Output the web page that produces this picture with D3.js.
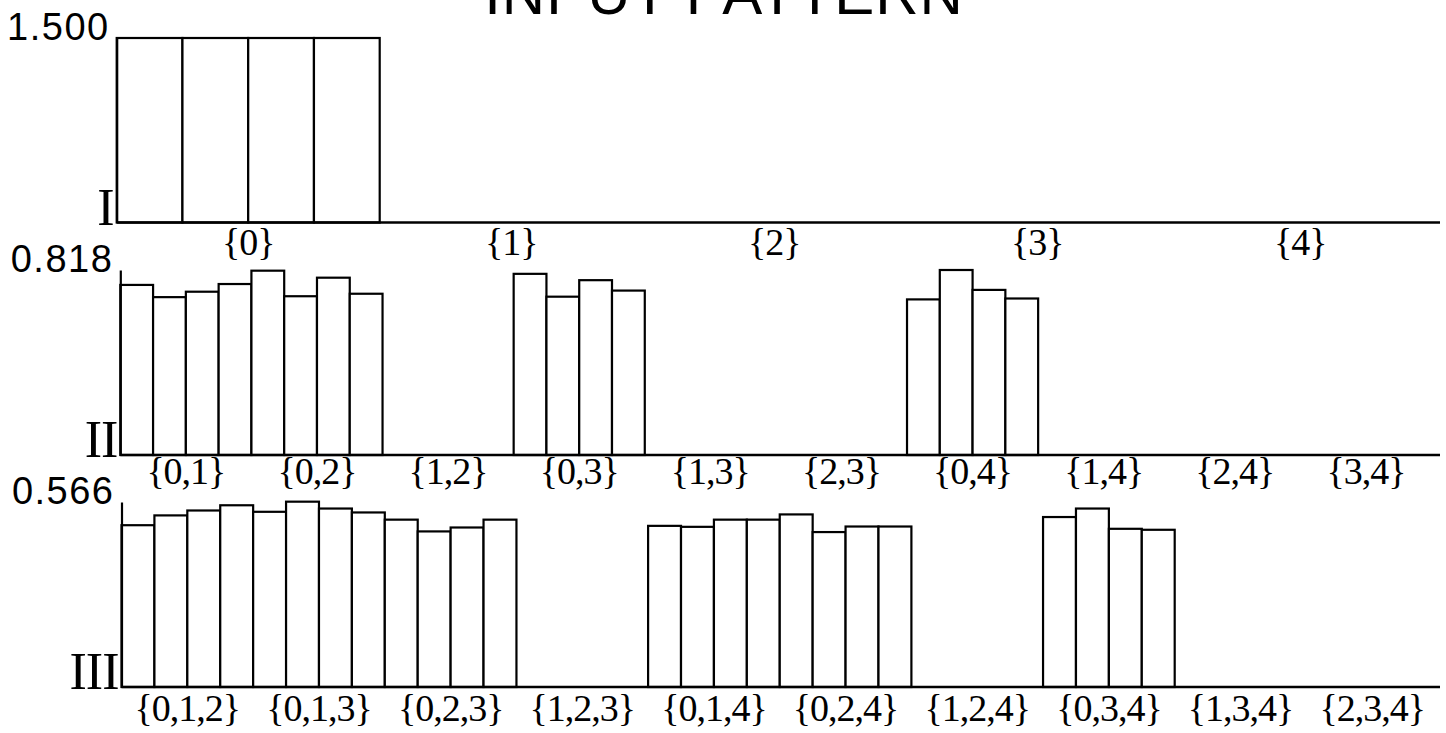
<!DOCTYPE html>
<html><head><meta charset="utf-8">
<script src="https://cdn.jsdelivr.net/npm/d3@7"></script>
<style>body{margin:0;background:#fff}svg{display:block}</style>
</head><body>
<svg id="chart" width="1446" height="733"></svg>
<script>
// ---- data ----
const titleText = "INPUT PATTERN";
const numerals = ["I", "II", "III"];
const maxValues = [1.5, 0.818, 0.566];

const catsI = ["{0}", "{1}", "{2}", "{3}", "{4}"];
const valsI = [
  [1.5, 1.5, 1.5, 1.5],
  [0, 0, 0, 0],
  [0, 0, 0, 0],
  [0, 0, 0, 0],
  [0, 0, 0, 0]
];

const catsII = ["{0,1}", "{0,2}", "{1,2}", "{0,3}", "{1,3}", "{2,3}", "{0,4}", "{1,4}", "{2,4}", "{3,4}"];
const valsII = [
  [0.752, 0.698, 0.722, 0.756],
  [0.815, 0.702, 0.784, 0.713],
  [0, 0, 0, 0],
  [0.801, 0.700, 0.773, 0.727],
  [0, 0, 0, 0],
  [0, 0, 0, 0],
  [0.688, 0.818, 0.730, 0.692],
  [0, 0, 0, 0],
  [0, 0, 0, 0],
  [0, 0, 0, 0]
];

const catsIII = ["{0,1,2}", "{0,1,3}", "{0,2,3}", "{1,2,3}", "{0,1,4}", "{0,2,4}", "{1,2,4}", "{0,3,4}", "{1,3,4}", "{2,3,4}"];
const valsIII = [
  [0.495, 0.525, 0.540, 0.556],
  [0.536, 0.567, 0.546, 0.534],
  [0.512, 0.476, 0.488, 0.512],
  [0, 0, 0, 0],
  [0.493, 0.490, 0.512, 0.512],
  [0.528, 0.474, 0.491, 0.491],
  [0, 0, 0, 0],
  [0.520, 0.546, 0.484, 0.481],
  [0, 0, 0, 0],
  [0, 0, 0, 0]
];

// ---- layout ----
const panels = [
  {cats: catsI,   vals: valsI,   max: maxValues[0], num: numerals[0], x0: 116.7, x1: 1431.7, yTop: 38,  yBase: 222.5, labelY: 255},
  {cats: catsII,  vals: valsII,  max: maxValues[1], num: numerals[1], x0: 120.3, x1: 1431.5, yTop: 270, yBase: 455,   labelY: 484},
  {cats: catsIII, vals: valsIII, max: maxValues[2], num: numerals[2], x0: 121.5, x1: 1438,   yTop: 502, yBase: 687,   labelY: 721}
];
const lineEnd = 1440;

const svg = d3.select("#chart");

svg.append("text")
  .attr("x", 724).attr("y", 14)
  .attr("text-anchor", "middle")
  .style("font-family", "'Liberation Sans', Arial, sans-serif")
  .style("font-size", "60px")
  .style("letter-spacing", "1px")
  .text(titleText);

panels.forEach(p => {
  const g = svg.append("g");
  const x = d3.scaleBand().domain(p.cats).range([p.x0, p.x1]).padding(0);
  const inner = d3.scaleBand().domain(d3.range(4)).range([0, x.bandwidth()]).padding(0);
  const y = d3.scaleLinear().domain([0, p.max]).range([p.yBase, p.yTop]);

  const bars = [];
  p.cats.forEach((c, ci) => p.vals[ci].forEach((v, i) => { if (v > 0) bars.push({c, i, v}); }));

  g.selectAll("rect.bar").data(bars).join("rect")
    .attr("class", "bar")
    .attr("x", d => x(d.c) + inner(d.i))
    .attr("y", d => y(d.v))
    .attr("width", inner.bandwidth())
    .attr("height", d => y(0) - y(d.v))
    .attr("fill", "#fff")
    .attr("stroke", "#000")
    .attr("stroke-width", 2.2);

  // baseline
  g.append("line")
    .attr("x1", p.x0).attr("x2", lineEnd)
    .attr("y1", y(0)).attr("y2", y(0))
    .attr("stroke", "#000").attr("stroke-width", 2.6);

  // y axis
  const ya = g.append("g")
    .attr("transform", `translate(${p.x0},0)`)
    .call(d3.axisLeft(y).tickValues([p.max]).tickFormat(d3.format(".3f")).tickSize(0).tickSizeOuter(0).tickPadding(7));
  ya.select(".domain").attr("stroke", "#000").attr("stroke-width", 2.2);
  ya.selectAll(".tick text")
    .attr("dy", "0.03em")
    .style("font-family", "'Liberation Sans', Arial, sans-serif")
    .style("font-size", "38px")
    .style("letter-spacing", "1.5px")
    .attr("fill", "#000");

  // x labels
  const xa = g.append("g")
    .attr("transform", `translate(0,${p.yBase})`)
    .call(d3.axisBottom(x).tickSize(0));
  xa.select(".domain").remove();
  xa.selectAll(".tick text")
    .attr("y", p.labelY - p.yBase)
    .attr("dy", 0)
    .style("font-family", "'Liberation Serif', 'Times New Roman', serif")
    .style("font-size", "38px")
    .style("letter-spacing", "-1px")
    .attr("fill", "#000");

  // roman numeral
  g.append("text")
    .attr("x", p.x0 - 3).attr("y", p.yBase + 2)
    .attr("text-anchor", "end")
    .style("font-family", "'Liberation Serif', 'Times New Roman', serif")
    .style("font-size", "52px")
    .style("letter-spacing", "-1px")
    .text(p.num);
});
</script>
</body></html>
